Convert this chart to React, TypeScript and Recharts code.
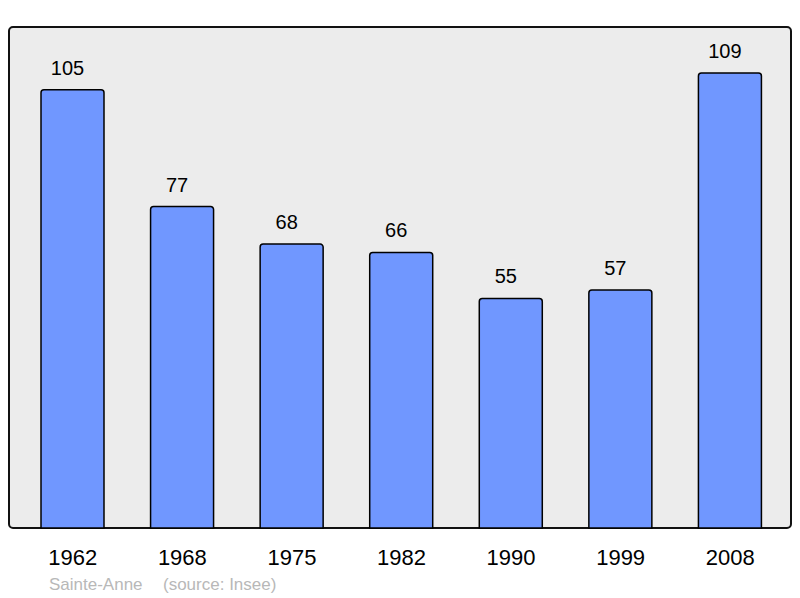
import React from 'react';
import { BarChart, Bar, XAxis, YAxis, LabelList } from 'recharts';

const years = ['1962', '1968', '1975', '1982', '1990', '1999', '2008'];
const population = [105, 77, 68, 66, 55, 57, 109];

const data = years.map((year, i) => ({ year, population: population[i] }));

const FONT = '"Liberation Sans", Arial, sans-serif';

interface TickProps {
  x?: number;
  y?: number;
  payload?: { value: string | number };
}

const YearTick: React.FC<TickProps> = ({ x, payload }) => {
  if (x === undefined || !payload) return null;
  return (
    <text x={x} y={565} textAnchor="middle" fontSize={22} fill="#000" fontFamily={FONT}>
      {payload.value}
    </text>
  );
};

interface ValueLabelProps {
  x?: number;
  y?: number;
  width?: number;
  value?: string | number;
}

// value labels sit a little left of the bar centre in the original
const ValueLabel: React.FC<ValueLabelProps> = ({ x, y, width, value }) => {
  if (x === undefined || y === undefined || width === undefined) return null;
  return (
    <text x={x + width / 2 - 5} y={y - 15} textAnchor="middle" fontSize={20} fill="#000" fontFamily={FONT}>
      {value}
    </text>
  );
};

const App = () => {
  return (
    <div style={{ position: 'absolute', left: 0, top: 0, width: 800, height: 598 }}>
      <div
        style={{
          position: 'absolute',
          left: 8,
          top: 26,
          width: 784,
          height: 503,
          boxSizing: 'border-box',
          border: '2px solid #111',
          borderRadius: 5,
          background: '#ececec',
        }}
      />
      <div style={{ position: 'absolute', left: 0, top: 0 }}>
        <BarChart
          width={800}
          height={598}
          data={data}
          margin={{ top: 27, right: 9, bottom: 40, left: 9 }}
        >
          <XAxis
            dataKey="year"
            height={30}
            axisLine={false}
            tickLine={false}
            padding={{ left: 9, right: 6 }}
            tick={<YearTick />}
            interval={0}
          />
          <YAxis hide domain={[0, 120]} />
          <Bar
            dataKey="population"
            fill="#7097ff"
            stroke="#000"
            strokeWidth={1.5}
            barSize={63}
            radius={[3, 3, 0, 0]}
            isAnimationActive={false}
          >
            <LabelList dataKey="population" content={<ValueLabel />} />
          </Bar>
        </BarChart>
      </div>
      <svg width={800} height={598} style={{ position: 'absolute', left: 0, top: 0, pointerEvents: 'none' }}>
        <text x={49} y={590} fontSize={17} fill="#b8b8b8" fontFamily={FONT}>
          Sainte-Anne
        </text>
        <text x={163} y={590} fontSize={17} fill="#b8b8b8" fontFamily={FONT}>
          (source: Insee)
        </text>
      </svg>
    </div>
  );
};

export default App;
